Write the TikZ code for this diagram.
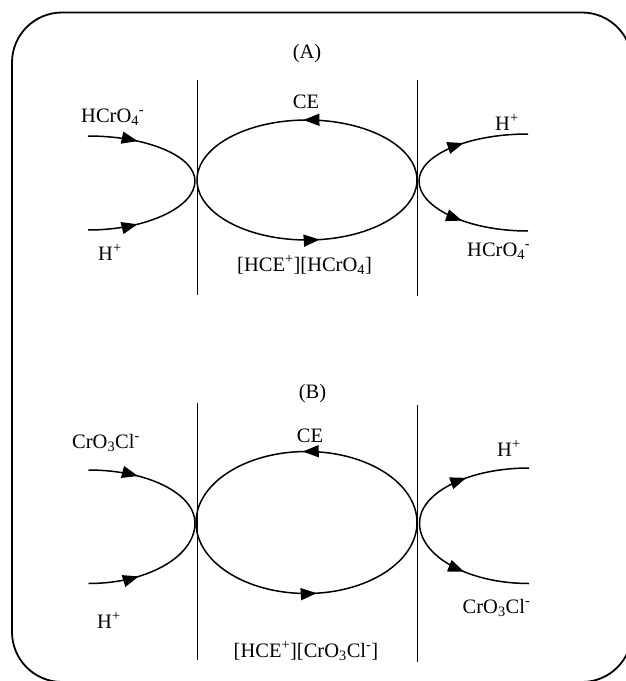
\documentclass[tikz,border=0pt]{standalone}
\usepackage{fontspec}
\setmainfont{Liberation Serif}
\usetikzlibrary{arrows.meta,decorations.markings}
\tikzset{
  frame/.style={line width=1.8pt, rounded corners=50pt},
  wall/.style={line width=0.8pt},
  flow/.style={line width=1.5pt},
  tipat/.style={postaction={decorate},
    decoration={markings, mark=at position #1 with {\arrow{Triangle[length=16pt,width=12pt]}}}},
  tiptwo/.style n args={2}{postaction={decorate},
    decoration={markings,
      mark=at position #1 with {\arrow{Triangle[length=16pt,width=12pt]}},
      mark=at position #2 with {\arrow{Triangle[length=16pt,width=12pt]}}}},
  lab/.style={inner sep=0pt, font=\fontsize{20.5}{24}\selectfont},
}
\begin{document}
\begin{tikzpicture}[x=1pt,y=-1pt]
\useasboundingbox (0,0) rectangle (626,681);
\clip (0,0) rectangle (626,681);
\draw[frame] (12,12.5) rectangle (632,682);

% ---------------- panel A ----------------
\coordinate (a1t) at (197,80);  \coordinate (a1b) at (197,295);
\coordinate (a2t) at (417,80);  \coordinate (a2b) at (417,296);
\draw[wall] (a1t) -- (a1b);
\draw[wall] (a2t) -- (a2b);

\coordinate (aLin1) at (88,136);
\coordinate (aLin2) at (88,230);
\coordinate (aLtouch) at (195,181);
\coordinate (aR) at (417,180);
\coordinate (aTop) at (307,120);
\coordinate (aL) at (197,180);
\coordinate (aBot) at (307,240);
\coordinate (aRtouch) at (419,181);
\coordinate (aRout1) at (528,134);
\coordinate (aRout2) at (528,231);

\draw[flow,tipat=50pt] (aLin1) .. controls (147,136) and (195,156) .. (aLtouch);
\draw[flow,tipat=50pt] (aLin2) .. controls (147,230) and (195,207) .. (aLtouch);
\draw[flow,tiptwo={140pt}{422pt}] (aR) .. controls (417,146.9) and (367.75,120) .. (aTop)
  .. controls (246.25,120) and (197,146.9) .. (aL)
  .. controls (197,213.1) and (246.25,240) .. (aBot)
  .. controls (367.75,240) and (417,213.1) .. (aR);
\draw[flow,tipat=62pt] (aRtouch) .. controls (419,155) and (468,134) .. (aRout1);
\draw[flow,tipat=62pt] (aRtouch) .. controls (419,208) and (468,231) .. (aRout2);

\node[lab,anchor=base] (labA) at (307,58) {(A)};
\node[lab,anchor=base] (ceA) at (306,108) {CE};
\node[lab,anchor=base west] (inA1) at (81,122) {HCrO\textsubscript{4}\textsuperscript{-}};
\node[lab,anchor=base west] (inA2) at (98,260) {H\textsuperscript{+}};
\node[lab,anchor=base west] (cxA) at (237,271) {[HCE\textsuperscript{+}][HCrO\textsubscript{4}]};
\node[lab,anchor=base west] (outA1) at (495,130) {H\textsuperscript{+}};
\node[lab,anchor=base west] (outA2) at (467,256) {HCrO\textsubscript{4}\textsuperscript{-}};

% ---------------- panel B ----------------
\coordinate (b1t) at (197,403);  \coordinate (b1b) at (197,660);
\coordinate (b2t) at (417.5,405);  \coordinate (b2b) at (417.5,662);
\draw[wall] (b1t) -- (b1b);
\draw[wall] (b2t) -- (b2b);

\coordinate (bLin1) at (88.5,470);
\coordinate (bLin2) at (88.5,583.5);
\coordinate (bLtouch) at (195,523);
\coordinate (bR) at (417,522.5);
\coordinate (bTop) at (306.5,451.5);
\coordinate (bL) at (196,522.5);
\coordinate (bBot) at (306.5,593.5);
\coordinate (bRtouch) at (419.5,523);
\coordinate (bRout1) at (529,468);
\coordinate (bRout2) at (529,583.5);

\draw[flow,tipat=50pt] (bLin1) .. controls (148,470) and (195,493.7) .. (bLtouch);
\draw[flow,tipat=51pt] (bLin2) .. controls (148,583.5) and (195,556.2) .. (bLtouch);
\draw[flow,tiptwo={148pt}{443pt}] (bR) .. controls (417,483.3) and (367.5,451.5) .. (bTop)
  .. controls (245.5,451.5) and (196,483.3) .. (bL)
  .. controls (196,561.7) and (245.5,593.5) .. (bBot)
  .. controls (367.5,593.5) and (417,561.7) .. (bR);
\draw[flow,tipat=69pt] (bRtouch) .. controls (419.5,492.6) and (468.5,468) .. (bRout1);
\draw[flow,tipat=70pt] (bRtouch) .. controls (419.5,556.4) and (468.5,583.5) .. (bRout2);

\node[lab,anchor=base] (labB) at (312.5,398.5) {(B)};
\node[lab,anchor=base] (ceB) at (310,442) {CE};
\node[lab,anchor=base west] (inB1) at (72,448) {CrO\textsubscript{3}Cl\textsuperscript{-}};
\node[lab,anchor=base west] (inB2) at (97,628) {H\textsuperscript{+}};
\node[lab,anchor=base west] (cxB) at (233.5,657.5) {[HCE\textsuperscript{+}][CrO\textsubscript{3}Cl\textsuperscript{-}]};
\node[lab,anchor=base west] (outB1) at (497,456) {H\textsuperscript{+}};
\node[lab,anchor=base west] (outB2) at (462.5,613.5) {CrO\textsubscript{3}Cl\textsuperscript{-}};
\end{tikzpicture}
\end{document}
